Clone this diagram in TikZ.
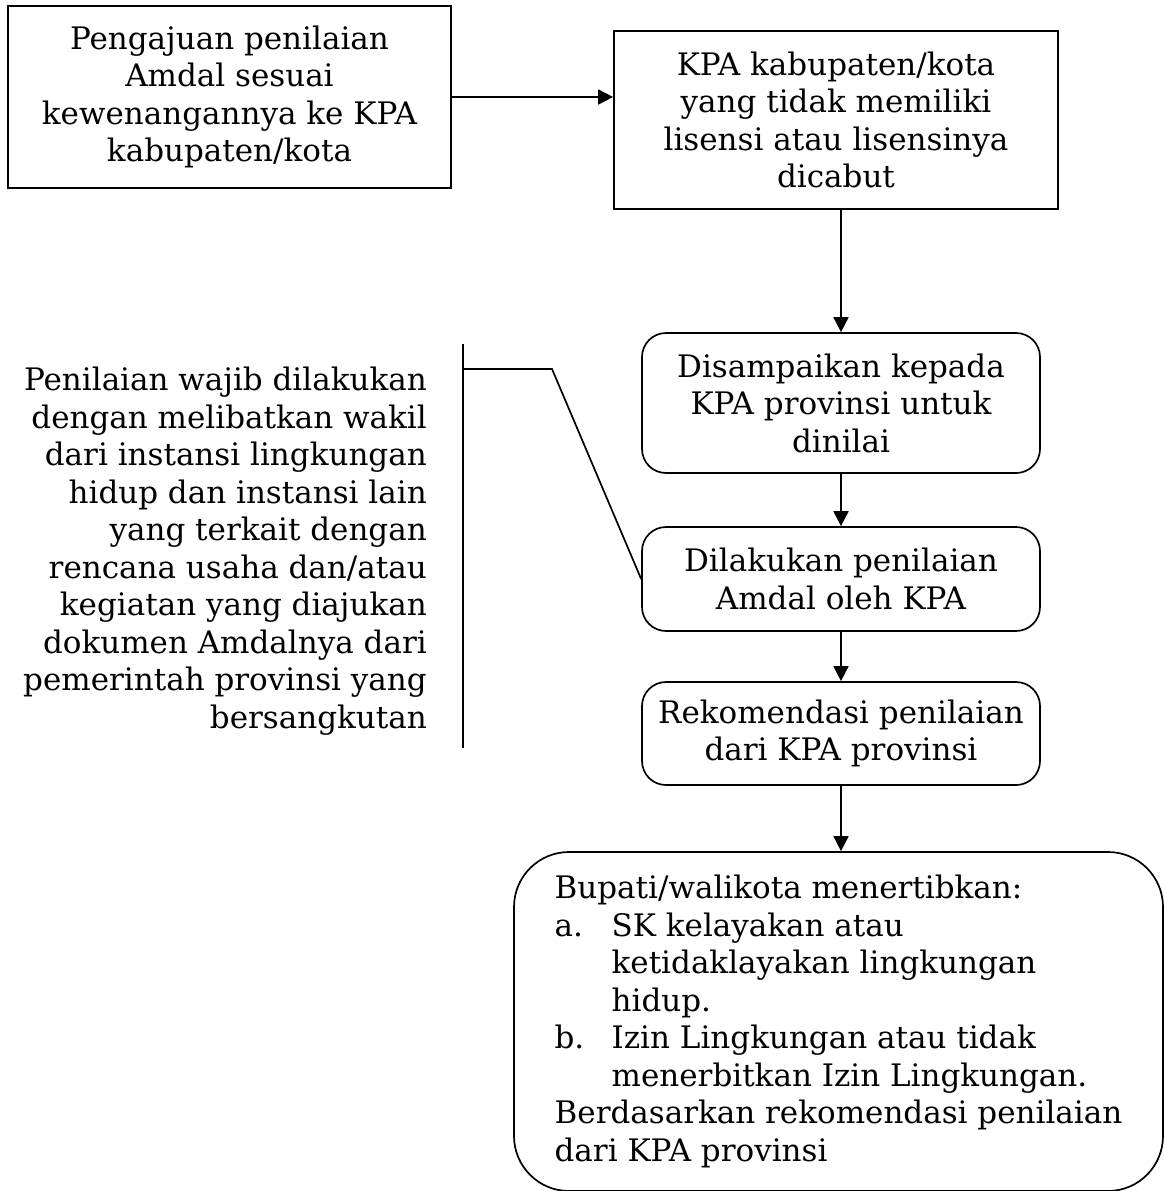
\documentclass[tikz,border=0pt]{standalone}
\usepackage{fontspec}
\setmainfont{DejaVu Serif}
\usetikzlibrary{arrows.meta, positioning}

\begin{document}
\begin{tikzpicture}[x=1pt, y=-1pt,
  every node/.style={font=\fontsize{31}{37.5}\selectfont},
  sq/.style={rectangle, draw, line width=1.7pt, align=center, inner sep=0pt},
  rnd/.style={sq, rounded corners=24pt, minimum width=398pt},
  arr/.style={-{Triangle[length=15pt, width=15pt]}, line width=1.7pt},
  ln/.style={line width=1.7pt}
]
  \useasboundingbox (0,0) rectangle (1163,1191);
  \node[sq, minimum width=443pt, minimum height=182pt] (submit) at (229.5,97) {Pengajuan penilaian\\Amdal sesuai\\kewenangannya ke KPA\\kabupaten/kota};
  \node[sq, minimum width=444pt, minimum height=178pt] (kpakab) at (836,120) {KPA kabupaten/kota\\yang tidak memiliki\\lisensi atau lisensinya\\dicabut};
  \node[rnd, minimum height=140pt] (sent) at (841,403) {Disampaikan kepada\\KPA provinsi untuk\\dinilai};
  \node[rnd, minimum height=104pt] (assess) at (841,579) {Dilakukan penilaian\\Amdal oleh KPA};
  \node[rnd, minimum height=103pt] (recom) at (841,733.5) {Rekomendasi penilaian\\dari KPA provinsi};
  \node[sq, rounded corners=55pt, align=left, minimum width=649pt, minimum height=339pt] (decree) at (838.5,1021.5) {Bupati/walikota menertibkan:\\
    \makebox[57pt][l]{a.}SK kelayakan atau\\
    \hspace*{57pt}ketidaklayakan lingkungan\\
    \hspace*{57pt}hidup.\\
    \makebox[57pt][l]{b.}Izin Lingkungan atau tidak\\
    \hspace*{57pt}menerbitkan Izin Lingkungan.\\
    Berdasarkan rekomendasi penilaian\\
    dari KPA provinsi};
  \node[align=right, inner sep=0pt, anchor=east] (note) at (427,551) {Penilaian wajib dilakukan\\dengan melibatkan wakil\\dari instansi lingkungan\\hidup dan instansi lain\\yang terkait dengan\\rencana usaha dan/atau\\kegiatan yang diajukan\\dokumen Amdalnya dari\\pemerintah provinsi yang\\bersangkutan};
  % bracket from the note to the assessment box
  \coordinate (brtop) at (463,344);
  \coordinate (brbot) at (463,748);
  \coordinate (brmid) at (463,369);
  \coordinate (brknee) at (552,369);
  \draw[ln] (brtop) -- (brbot);
  \draw[ln] (brmid) -- (brknee) -- (assess.west);
  % flow
  \draw[arr] (submit.east) -- (submit.east -| kpakab.west);
  \draw[arr] (sent.north |- kpakab.south) -- (sent.north);
  \draw[arr] (sent) -- (assess);
  \draw[arr] (assess) -- (recom);
  \draw[arr] (recom.south) -- (recom.south |- decree.north);
\end{tikzpicture}
\end{document}
